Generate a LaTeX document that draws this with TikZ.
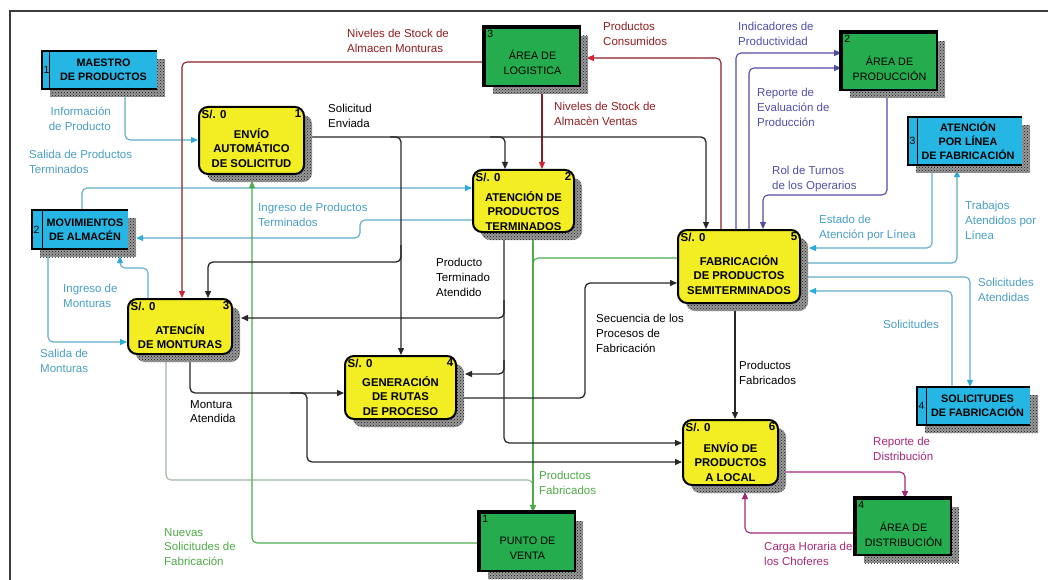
\documentclass[tikz,border=0pt]{standalone}
\usepackage{fontspec}
\setmainfont{Liberation Sans}
\usetikzlibrary{arrows.meta,patterns,backgrounds}

\definecolor{procfill}{RGB}{243,238,35}
\definecolor{storefill}{RGB}{38,182,228}
\definecolor{entfill}{RGB}{36,172,78}
\definecolor{cyline}{RGB}{95,170,200}
\definecolor{cyhead}{RGB}{40,172,222}
\definecolor{cytext}{RGB}{72,158,196}
\definecolor{rdline}{RGB}{135,30,40}
\definecolor{rdhead}{RGB}{215,35,45}
\definecolor{rdtext}{RGB}{145,28,32}
\definecolor{puline}{RGB}{85,75,165}
\definecolor{putext}{RGB}{80,78,170}
\definecolor{grline}{RGB}{75,172,75}
\definecolor{grtext}{RGB}{78,170,70}
\definecolor{mgline}{RGB}{160,40,120}
\definecolor{mgtext}{RGB}{168,40,118}
\definecolor{gyline}{RGB}{165,182,165}
\definecolor{framecol}{RGB}{60,60,60}

\tikzset{
  hatch/.style={
    preaction={fill=black!40, transform canvas={shift={(8pt,-8pt)}}},
    preaction={pattern=crosshatch dots, pattern color=black!90,
      transform canvas={shift={(8pt,-8pt)}}}},
  process/.style={hatch, draw, line width=2pt, rounded corners=9pt, fill=procfill, inner sep=0pt},
  store/.style={hatch, fill=storefill, inner sep=0pt},
  entity/.style={hatch, draw, line width=1.6pt, fill=entfill, inner sep=0pt},
  pnum/.style={font=\bfseries\fontsize{11.5}{13}\selectfont, inner sep=3.5pt},
  ptext/.style={font=\bfseries\fontsize{11.3}{14.7}\selectfont, align=center, inner sep=0pt},
  stext/.style={font=\bfseries\fontsize{10.8}{14}\selectfont, align=center, inner sep=0pt},
  snum/.style={font=\fontsize{10.5}{12}\selectfont, inner sep=1.5pt, anchor=west},
  etext/.style={font=\fontsize{10.8}{15}\selectfont, align=center, inner sep=0pt},
  enum/.style={font=\fontsize{10.5}{12}\selectfont, inner sep=3pt, anchor=north west},
  lab/.style={font=\fontsize{11.5}{14.8}\selectfont, align=left, inner sep=0pt, anchor=north west},
  flow/.style={line width=1.1pt, rounded corners=5pt},
  headcol/.style={-{Triangle[length=7pt,width=6pt,color=#1]}},
  cyflow/.style={flow, draw=cyline, headcol=cyhead},
  rdflow/.style={flow, draw=rdline, headcol=rdhead},
  puflow/.style={flow, draw=puline, headcol=puline},
  grflow/.style={flow, draw=grline, headcol=grline},
  mgflow/.style={flow, draw=mgline, headcol=mgline},
  bkflow/.style={flow, draw=black!85, line width=1.3pt, headcol=black!85},
}

\begin{document}
\begin{tikzpicture}[x=1pt,y=-1pt]
\useasboundingbox (0,0) rectangle (1048,580);

% ---------- processes ----------
\node[process, minimum width=105pt, minimum height=67pt,
  label={[pnum,anchor=north west]north west:S/. 0},
  label={[pnum,anchor=north east]north east:1},
  label={[ptext,yshift=-7.5pt]center:ENVÍO\\AUTOMÁTICO\\DE SOLICITUD}] (p1) at (251.5,140.5) {};
\node[process, minimum width=101pt, minimum height=62pt,
  label={[pnum,anchor=north west]north west:S/. 0},
  label={[pnum,anchor=north east]north east:2},
  label={[ptext,yshift=-10pt]center:ATENCIÓN DE\\PRODUCTOS\\TERMINADOS}] (p2) at (523.5,201) {};
\node[process, minimum width=104pt, minimum height=55pt,
  label={[pnum,anchor=north west]north west:S/. 0},
  label={[pnum,anchor=north east]north east:3},
  label={[ptext,yshift=-10pt]center:ATENCÍN\\DE MONTURAS}] (p3) at (180,326.5) {};
\node[process, minimum width=111pt, minimum height=63pt,
  label={[pnum,anchor=north west]north west:S/. 0},
  label={[pnum,anchor=north east]north east:4},
  label={[ptext,yshift=-8.5pt]center:GENERACIÓN\\DE RUTAS\\DE PROCESO}] (p4) at (400.5,387.5) {};
\node[process, minimum width=122pt, minimum height=73pt,
  label={[pnum,anchor=north west]north west:S/. 0},
  label={[pnum,anchor=north east]north east:5},
  label={[ptext,yshift=-8.5pt]center:FABRICACIÓN\\DE PRODUCTOS\\SEMITERMINADOS}] (p5) at (739,266.5) {};
\node[process, minimum width=95pt, minimum height=65pt,
  label={[pnum,anchor=north west]north west:S/. 0},
  label={[pnum,anchor=north east]north east:6},
  label={[ptext,yshift=-9.5pt]center:ENVÍO DE\\PRODUCTOS\\A LOCAL}] (p6) at (730.5,452.5) {};

% ---------- data stores ----------
\node[store, minimum width=115pt, minimum height=38pt,
  label={[snum]west:1},
  label={[stext,xshift=4pt]center:MAESTRO\\DE PRODUCTOS}] (s1) at (99.5,70) {};
\node[store, minimum width=96pt, minimum height=39pt,
  label={[snum]west:2},
  label={[stext,xshift=5pt]center:MOVIMIENTOS\\DE ALMACÉN}] (s2) at (80,229.5) {};
\node[store, minimum width=114pt, minimum height=48pt,
  label={[snum]west:3},
  label={[stext,xshift=3pt]center:ATENCIÓN\\POR LÍNEA\\DE FABRICACIÓN}] (s3) at (965,141) {};
\node[store, minimum width=113pt, minimum height=38pt,
  label={[snum]west:4},
  label={[stext,xshift=4pt]center:SOLICITUDES\\DE FABRICACIÓN}] (s4) at (973.5,406) {};
\foreach \s/\w in {s1/8,s2/11,s3/10,s4/10}{
  \draw[line width=2pt] (\s.north east) -- (\s.north west) -- (\s.south west) -- (\s.south east);
  \draw[line width=1.2pt] ([xshift=\w pt]\s.north west) -- ([xshift=\w pt]\s.south west);
}

% ---------- external entities ----------
\node[entity, minimum width=95pt, minimum height=58pt,
  label={[enum]north west:3},
  label={[etext,yshift=-5.5pt]center:ÁREA DE\\LOGISTICA}] (e1) at (532.5,57) {};
\node[entity, minimum width=95pt, minimum height=57pt,
  label={[enum]north west:2},
  label={[etext,yshift=-6.5pt]center:ÁREA DE\\PRODUCCIÓN}] (e2) at (889.5,61.5) {};
\node[entity, minimum width=95pt, minimum height=58pt,
  label={[enum]north west:1},
  label={[etext,yshift=-6.5pt]center:PUNTO DE\\VENTA}] (e3) at (527.5,542) {};
\node[entity, minimum width=95pt, minimum height=56pt,
  label={[enum]north west:4},
  label={[etext,yshift=-7.5pt]center:ÁREA DE\\DISTRIBUCIÓN}] (e4) at (903.5,527) {};
\foreach \e in {e1,e2,e3,e4}
  \draw[line width=4pt] (\e.south west) -- (\e.north west) -- (\e.north east);

% shadow edges where arrows end
\coordinate (p5sh) at ([xshift=8pt]p5.east);
\coordinate (p3sh) at ([xshift=8pt]p3.east);
\coordinate (p4sh) at ([xshift=8pt]p4.east);
\coordinate (s2sh) at ([xshift=8pt]s2.east);
\coordinate (e1sh) at ([xshift=6pt]e1.east);
\coordinate (s2b) at ([yshift=-7pt]s2.south);
\coordinate (s3b) at ([yshift=-5pt]s3.south);
\coordinate (p6b) at ([yshift=-6pt]p6.south);
\coordinate (p1b) at ([yshift=-6pt]p1.south);

% ---------- flows ----------
\begin{scope}[on background layer]
\draw[framecol, line width=1.3pt] (10,580) -- (10,11) -- (1048,11);

% store flows
\draw[cyflow] (s1.south -| 125,0) |- (p1.west |- 0,140);
\draw[cyflow] (s2.north -| 82,0) |- (p2.west |- 0,188);
\draw[cyflow] (p2.west |- 0,220) -| (360,238) -- (s2sh |- 0,238);
\draw[cyflow] (p3.north -| 148,0) -- (148,268) -| (s2b -| 120,0);
\draw[cyflow] (s2.south -| 48,0) |- (p3.west |- 0,342);
\draw[cyflow] (s3.south -| 932,0) |- (p5sh |- 0,248);
\draw[cyflow] (p5.east |- 0,263) -| (s3b -| 957,0);
\draw[cyflow] (p5.east |- 0,277) -| (s4.north -| 970,0);
\draw[cyflow] (s4.north -| 952,0) |- (p5sh |- 0,291);

% logistics
\draw[rdflow] (e1.west |- 0,62) -| (p3.north -| 182,0);
\draw[rdflow] (p5.north -| 721,0) |- (e1sh |- 0,58);
\draw[rdflow] (e1.south -| 542,0) -- (p2.north -| 542,0);

% production
\draw[puflow] (p5.north -| 736,0) |- (e2.west |- 0,53);
\draw[puflow] (p5.north -| 749,0) |- (e2.west |- 0,68);
\draw[puflow] (e2.south -| 887,0) -- (887,195) -| (p5.north -| 763,0);

% distribution
\draw[mgflow] (p6.east |- 0,472) -| (e4.north -| 905,0);
\draw[mgflow] (e4.west |- 0,533) -| (p6b -| 745,0);

% point of sale
\draw[flow, draw=gyline] (p3.south -| 166,0) -- (166,480) -| (533,495);
\draw[flow, draw=grline] (p5.west |- 0,258) -| (533,275);
\draw[grflow] (p2.south -| 533,0) -- (e3.north -| 533,0);
\draw[grflow] (e3.west |- 0,543) -| (p1b -| 252,0);

% process flows
\draw[bkflow] (p1.east |- 0,137) -| (p5.north -| 706,0);
\draw[bkflow] (490,137) -| (p2.north -| 505,0);
\draw[bkflow] (390,137) -| (p4.north -| 401,0);
\draw[bkflow] (401,245) |- (208,262) -- (p3.north -| 208,0);
\draw[bkflow] (p2.south -| 504,0) |- (p6.west |- 0,443);
\draw[bkflow] (504,300) |- (p3sh |- 0,318);
\draw[bkflow] (504,360) |- (p4sh |- 0,374);
\draw[bkflow] (p4.east |- 0,398) -| (585,283) -- (p5.west |- 0,283);
\draw[bkflow] (p3.south -| 190,0) |- (p4.west |- 0,393);
\draw[bkflow] (290,393) -- (307,393) -- (307,462) -- (p6.west |- 0,462);
\draw[bkflow] (p5.south -| 735,0) -- (p6.north -| 735,0);
\end{scope}

% ---------- flow labels ----------
\node[lab, cytext, anchor=north east, align=right] (l1) at (111,107) {Información\\de Producto};
\node[lab, cytext] (l2) at (29,150) {Salida de Productos\\Terminados};
\node[lab, cytext] (l3) at (258,203) {Ingreso de Productos\\Terminados};
\node[lab, cytext] (l4) at (63,284) {Ingreso de\\Monturas};
\node[lab, cytext] (l5) at (40,349) {Salida de\\Monturas};
\node[lab, rdtext] (l6) at (347,29) {Niveles de Stock de\\Almacen Monturas};
\node[lab, rdtext] (l7) at (603,22) {Productos\\Consumidos};
\node[lab, rdtext] (l8) at (554,102) {Niveles de Stock de\\Almacèn Ventas};
\node[lab] (l9) at (328,104) {Solicitud\\Enviada};
\node[lab, putext] (l10) at (738,22) {Indicadores de\\Productividad};
\node[lab, putext] (l11) at (757,88) {Reporte de\\Evaluación de\\Producción};
\node[lab, putext] (l12) at (772,166) {Rol de Turnos\\de los Operarios};
\node[lab, cytext] (l13) at (819,215) {Estado de\\Atención por Línea};
\node[lab, cytext] (l14) at (965,201) {Trabajos\\Atendidos por\\Línea};
\node[lab, cytext] (l15) at (978,278) {Solicitudes\\Atendidas};
\node[lab, cytext] (l16) at (883,320) {Solicitudes};
\node[lab] (l17) at (436,258) {Producto\\Terminado\\Atendido};
\node[lab] (l18) at (596,314) {Secuencia de los\\Procesos de\\Fabricación};
\node[lab] (l19) at (739,361) {Productos\\Fabricados};
\node[lab] (l20) at (190,400) {Montura\\Atendida};
\node[lab, grtext] (l21) at (539,471) {Productos\\Fabricados};
\node[lab, grtext] (l22) at (164,528) {Nuevas\\Solicitudes de\\Fabricación};
\node[lab, mgtext] (l23) at (873,437) {Reporte de\\Distribución};
\node[lab, mgtext] (l24) at (764,542) {Carga Horaria de\\los Choferes};
\end{tikzpicture}
\end{document}
